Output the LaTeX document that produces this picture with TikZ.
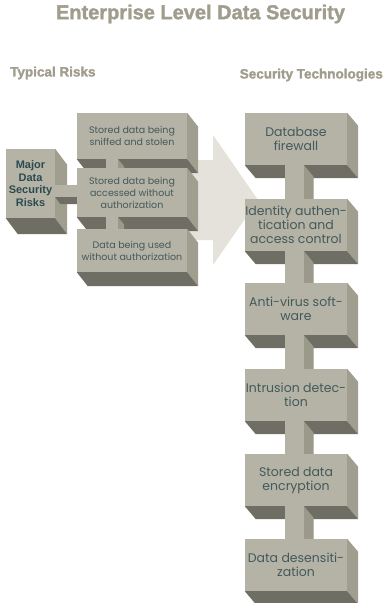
\documentclass[tikz,border=0pt]{standalone}
\usepackage{fontspec}
\setmainfont{Poppins}
\newfontfamily\headfont{Liberation Sans}
\newfontfamily\heavyfont{Liberation Sans}[BoldFeatures={FakeBold=1.6}]
\usetikzlibrary{calc}
\definecolor{facec}{HTML}{B4B3A6}
\definecolor{rsidec}{HTML}{A09F8F}
\definecolor{bsidec}{HTML}{6E6E64}
\definecolor{barside}{HTML}{9A998A}
\definecolor{headc}{HTML}{A09D8D}
\definecolor{arrowc}{HTML}{E4E2DA}
\definecolor{txtc}{HTML}{44595B}
\definecolor{majc}{HTML}{2B4B50}
\tikzset{
  front/.style={fill=facec, draw=none, inner sep=0pt, align=center, text=txtc},
  rbox/.style={front, minimum width=102pt, minimum height=52pt, font=\fontsize{12.5}{14}\selectfont},
  lbox/.style={front, minimum width=110pt, font=\fontsize{9.5}{12}\selectfont},
  rside/.style={fill=rsidec},
  bside/.style={fill=bsidec},
  barface/.style={fill=facec},
  barsd/.style={fill=barside},
  headtxt/.style={text=headc, font=\heavyfont\bfseries\fontsize{13.5}{15}\selectfont, inner sep=0pt},
}
\newcommand{\boxsides}[3]{%
  \fill[rside] (#1.north east) -- ++(#2,#3) -- ($(#1.south east)+(#2,#3)$) -- (#1.south east) -- cycle;
  \fill[bside] (#1.south west) -- (#1.south east) -- ++(#2,#3) -- ($(#1.south west)+(#2,#3)$) -- cycle;}
\newcommand{\vbar}[4]{% upper, lower, left x, width
  \fill[barface] (#3,0 |- #1.south) rectangle (#3+#4,0 |- #2.north);
  \fill[barsd] (#3+#4,0 |- #1.south) -- ($(#3+#4,0 |- #1.south)+(0.5*#4,0.6*#4)$) -- ($(#3+1.5*#4,0 |- #2.north)$) -- (#3+#4,0 |- #2.north) -- cycle;}
\begin{document}
\begin{tikzpicture}[x=1pt,y=-1pt]
\useasboundingbox[fill=white] (0,0) rectangle (384,603);
% title and headers
\node[text=headc, font=\heavyfont\bfseries\fontsize{20}{22}\selectfont, inner sep=0pt] (title) at (200.5,14) {Enterprise Level Data Security};
\node[headtxt, anchor=west] (hl) at (10,73) {Typical Risks};
\node[headtxt, anchor=east] (hr) at (383,75) {Security Technologies};
% big arrow
\fill[arrowc] (150,160) coordinate (a1) -- (213,160) -- (213,135) -- (258,200) coordinate (atip) -- (213,265) -- (213,240) -- (150,240) -- cycle;
% risk boxes
\node[front, minimum width=49pt, minimum height=69pt, text=majc, font=\headfont\bfseries\fontsize{11}{12.5}\selectfont] (maj) at (30.5,183.5) {Major\\Data\\Security\\Risks};
\boxsides{maj}{12}{16}
\node[lbox, minimum height=46pt] (r1) at (132,136) {Stored data being\\sniffed and stolen};
\boxsides{r1}{11}{14}
\node[lbox, minimum height=49pt] (r2) at (132,192.5) {Stored data being\\accessed without\\authorization};
\boxsides{r2}{11}{14}
\node[lbox, minimum height=43pt] (r3) at (132,250.5) {Data being used\\without authorization};
\boxsides{r3}{11}{14}
% horizontal connector
\fill[barface] (maj.east |- 0,185) rectangle (r2.west |- 0,197);
\fill[bsidec] (maj.east |- 0,197) -- (r2.west |- 0,197) -- (r2.west |- 0,204) -- ($(maj.east |- 0,204)+(5,0)$) -- cycle;
% vertical connectors left
\vbar{r1}{r2}{106}{12}
\vbar{r2}{r3}{106}{12}
% technology boxes
\node[rbox] (t1) at (296,139) {Database\\firewall};
\node[rbox] (t2) at (296,225) {Identity authen-\\tication and\\access control};
\node[rbox] (t3) at (296,309) {Anti-virus soft-\\ware};
\node[rbox] (t4) at (296,395) {Intrusion detec-\\tion};
\node[rbox] (t5) at (296,480) {Stored data\\encryption};
\node[rbox] (t6) at (296,565) {Data desensiti-\\zation};
\foreach \n in {t1,t2,t3,t4,t5,t6} {\boxsides{\n}{11}{13}}
\vbar{t1}{t2}{285}{19}
\vbar{t2}{t3}{285}{19}
\vbar{t3}{t4}{285}{19}
\vbar{t4}{t5}{285}{19}
\vbar{t5}{t6}{285}{19}
\end{tikzpicture}
\end{document}
